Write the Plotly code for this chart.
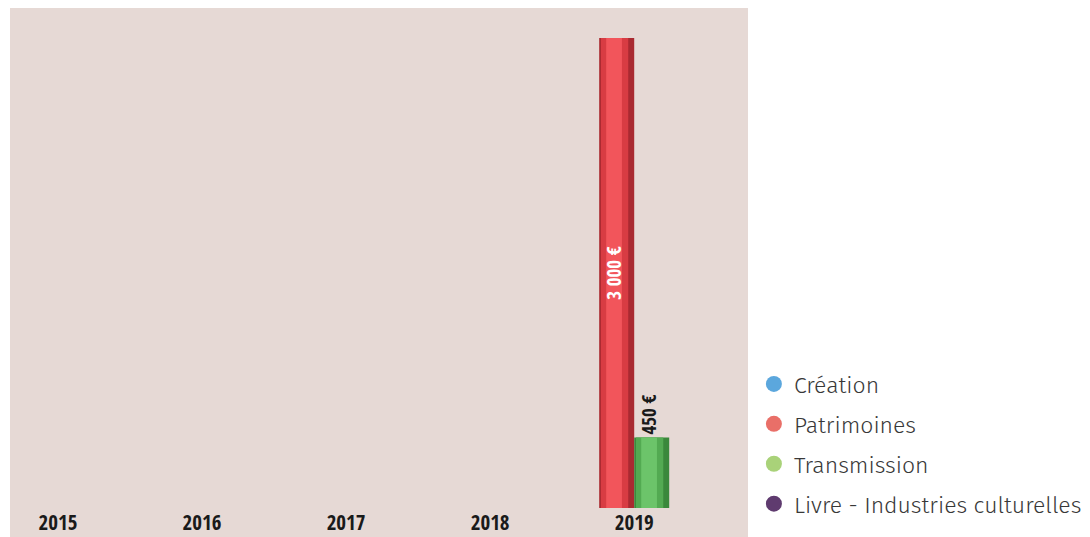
import plotly.graph_objects as go

years = ["2015", "2016", "2017", "2018", "2019"]
series_names = ["Création", "Patrimoines", "Transmission", "Livre - Industries culturelles"]
creation = [None, None, None, None, None]
patrimoines = [None, None, None, None, 3000]
transmission = [None, None, None, None, 450]
livre = [None, None, None, None, None]

legend_colors = ["#5BA7DD", "#E96F68", "#A9D279", "#5F3B6F"]
bar_dark = ["#3F86BC", "#A92A31", "#3A883B", "#4A2B58"]
bar_mid = ["#5A9FD2", "#D83C43", "#53AA52", "#61407A"]
bar_light = ["#7CC0EE", "#F2555B", "#6CC46A", "#7A5592"]

values = [creation, patrimoines, transmission, livre]

def fmt(v):
    if v is None:
        return ""
    return f"{v:,.0f}".replace(",", " ") + " €"

BW = 0.243
fig = go.Figure()
label_font = "Open Sans Condensed, Roboto Condensed, DejaVu Sans, sans-serif"

for i, (name, vals) in enumerate(zip(series_names, values)):
    off = -2 * BW + i * BW
    texts = [fmt(v) for v in vals]
    # dark edge
    fig.add_trace(go.Bar(
        x=years, y=vals, width=BW, offset=off,
        marker=dict(color=bar_dark[i], line=dict(width=0)),
        showlegend=False, hoverinfo="skip",
    ))
    # mid body
    fig.add_trace(go.Bar(
        x=years, y=vals, width=BW * 0.78, offset=off + BW * 0.05,
        marker=dict(color=bar_mid[i], line=dict(width=0)),
        showlegend=False, hoverinfo="skip",
    ))
    # highlight
    fig.add_trace(go.Bar(
        x=years, y=vals, width=BW * 0.45, offset=off + BW * 0.2,
        marker=dict(color=bar_light[i], line=dict(width=0)),
        showlegend=False, name=name,
        text=texts,
        textposition="inside" if i == 1 else "outside",
        insidetextanchor="middle",
        textangle=-90,
        constraintext="none",
        textfont=dict(family=label_font, size=19,
                      color="white" if i == 1 else "#1a1a1a", weight="bold"),
        cliponaxis=False,
    ))
    # legend entry with circle marker
    fig.add_trace(go.Scatter(
        x=[None], y=[None], mode="markers", name=name,
        marker=dict(symbol="circle", size=21, color=legend_colors[i]),
        legendgroup=name, showlegend=True,
    ))

fig.update_layout(
    width=1082, height=529,
    margin=dict(l=2, r=342, t=0, b=29),
    paper_bgcolor="white",
    plot_bgcolor="#E6D9D5",
    barmode="overlay",
    showlegend=True,
    legend=dict(
        x=1.008, y=-0.035, xanchor="left", yanchor="bottom",
        font=dict(family="Fira Sans, Noto Sans, sans-serif", size=23, color="#383838", weight=300),
        itemsizing="trace", tracegroupgap=7, bgcolor="rgba(0,0,0,0)",
        itemwidth=30,
    ),
    xaxis=dict(
        type="category", range=[-0.333, 4.79],
        showgrid=False, zeroline=False, showline=False, ticks="",
        tickfont=dict(family=label_font, size=21, color="#1a1a1a", weight="bold"),
    ),
    yaxis=dict(range=[0, 3191], visible=False, showgrid=False, zeroline=False),
    shapes=[dict(type="rect", xref="paper", yref="paper", x0=0, x1=1,
                 y0=-0.06, y1=1, fillcolor="#E6D9D5", line=dict(width=0), layer="below")],
)

fig.write_html("out.html")
